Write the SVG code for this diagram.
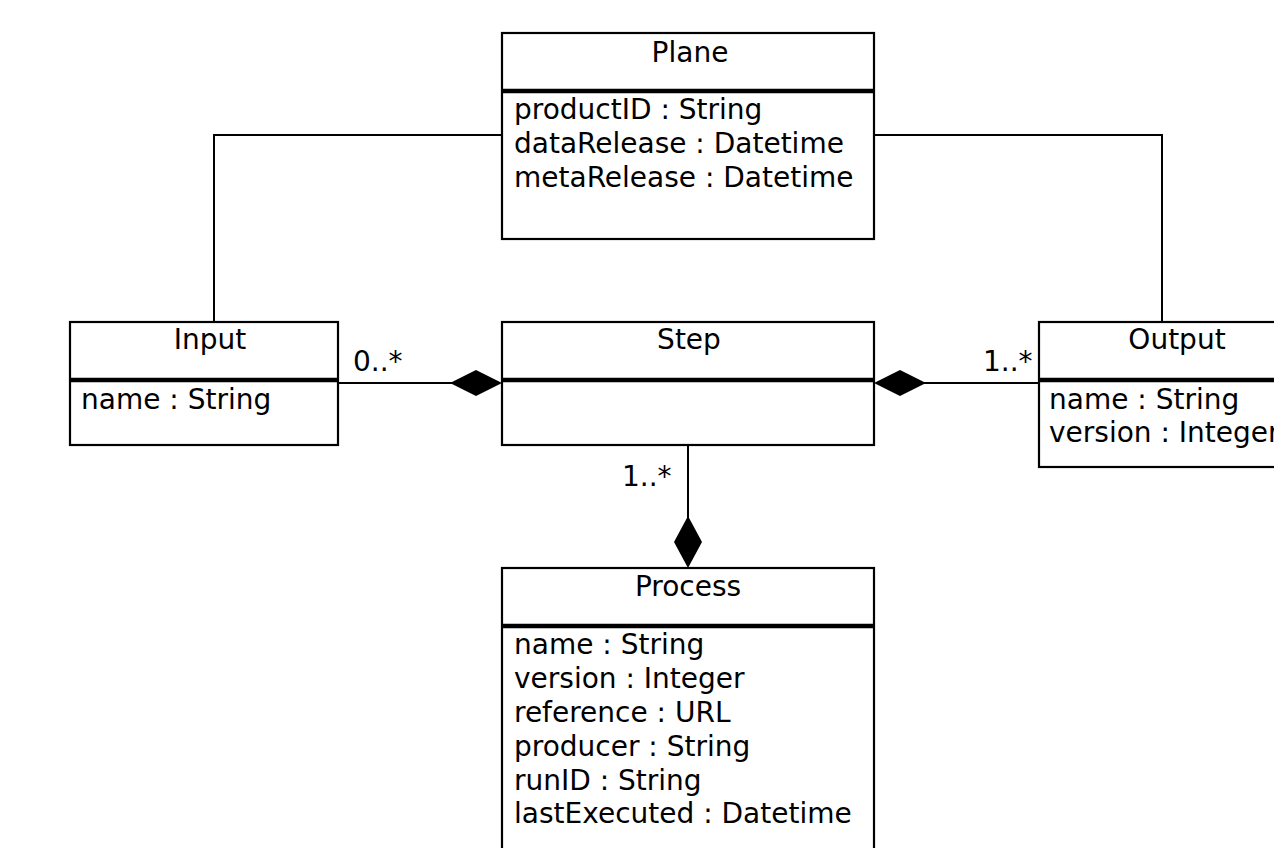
<svg xmlns="http://www.w3.org/2000/svg" width="1274" height="848" viewBox="0 0 1274 848">
<style>
.box{fill:#fff;stroke:#000;stroke-width:2.2}
.div{stroke:#000;stroke-width:4.5}
text{font-family:"DejaVu Sans",sans-serif;font-size:28px;fill:#000}
.t{text-anchor:middle}
.c{fill:none;stroke:#000;stroke-width:2}
.d{fill:#000;stroke:none}
</style>
<rect width="1274" height="848" fill="#fff"/>
<g id="connectors">
<polyline class="c" points="502,135 214,135 214,322"/>
<polyline class="c" points="874,135 1162,135 1162,322"/>
<line class="c" x1="338" y1="383" x2="452" y2="383"/>
<polygon class="d" points="450,383 476,370 502,383 476,396"/>
<line class="c" x1="924" y1="383" x2="1039" y2="383"/>
<polygon class="d" points="874,383 900,370 926,383 900,396"/>
<line class="c" x1="688" y1="445" x2="688" y2="520"/>
<polygon class="d" points="688,516 702,542 688,568 674,542"/>
<text x="353" y="371">0..*</text>
<text x="983" y="371">1..*</text>
<text x="622" y="486">1..*</text>
</g>
<g id="plane">
<rect class="box" x="502" y="33" width="372" height="206"/>
<line class="div" x1="502" y1="91" x2="874" y2="91"/>
<text class="t" x="690" y="62">Plane</text>
<text x="514" y="119">productID : String</text>
<text x="514" y="153">dataRelease : Datetime</text>
<text x="514" y="187">metaRelease : Datetime</text>
</g>
<g id="input">
<rect class="box" x="70" y="322" width="268" height="123"/>
<line class="div" x1="70" y1="380" x2="338" y2="380"/>
<text class="t" x="210" y="349">Input</text>
<text x="81" y="409">name : String</text>
</g>
<g id="step">
<rect class="box" x="502" y="322" width="372" height="123"/>
<line class="div" x1="502" y1="380" x2="874" y2="380"/>
<text class="t" x="689" y="349">Step</text>
</g>
<g id="output">
<rect class="box" x="1039" y="322" width="270" height="145"/>
<line class="div" x1="1039" y1="380" x2="1309" y2="380"/>
<text class="t" x="1177" y="349">Output</text>
<text x="1049" y="409">name : String</text>
<text x="1049" y="442">version : Integer</text>
</g>
<g id="process">
<rect class="box" x="502" y="568" width="372" height="300"/>
<line class="div" x1="502" y1="626" x2="874" y2="626"/>
<text class="t" x="688" y="596">Process</text>
<text x="514" y="654">name : String</text>
<text x="514" y="688">version : Integer</text>
<text x="514" y="722">reference : URL</text>
<text x="514" y="756">producer : String</text>
<text x="514" y="790">runID : String</text>
<text x="514" y="823">lastExecuted : Datetime</text>
</g>
</svg>
